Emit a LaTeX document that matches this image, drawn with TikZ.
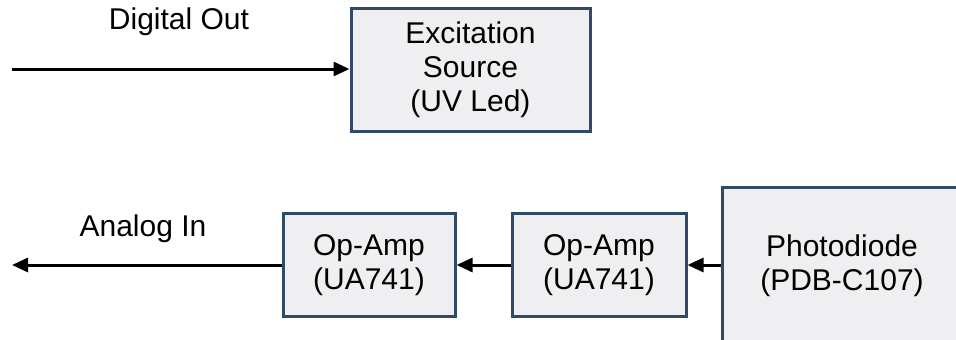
\documentclass[tikz,border=0pt]{standalone}
\usepackage{fontspec}
\setmainfont{Liberation Sans}
\usetikzlibrary{arrows.meta}
\definecolor{boxfill}{HTML}{EFEFF1}
\definecolor{boxline}{HTML}{2F4B67}
\begin{document}
\begin{tikzpicture}[x=1pt,y=-1pt,
  block/.style={draw=boxline, fill=boxfill, line width=3pt, inner sep=0pt,
    align=center, font=\fontsize{30}{34}\selectfont},
  sig/.style={line width=3pt, -{Triangle[length=16pt,width=14pt]}},
  lbl/.style={font=\fontsize{30}{34}\selectfont, inner sep=0pt}]
  \useasboundingbox (0,0) rectangle (956,340);
  \clip (0,0) rectangle (956,340);

  % upper row: digital output drives the UV source
  \node[block, minimum width=239pt, minimum height=123pt] (src) at (470.5,69.5)
    {Excitation\\Source\\(UV Led)};
  \coordinate (dout) at (12,69);
  \draw[sig] (dout) -- (src.west |- dout);
  \node[lbl] (doutlbl) at (179,22) {Digital Out};

  % lower row: photodiode -> two amplifier stages -> analog input
  \node[block, minimum width=240pt, minimum height=158pt] (pd) at (842,266)
    {Photodiode\\(PDB-C107)};
  \node[block, minimum width=174pt, minimum height=103pt] (amp2) at (599,265)
    {Op-Amp\\(UA741)};
  \node[block, minimum width=172pt, minimum height=103pt] (amp1) at (369,265)
    {Op-Amp\\(UA741)};
  \coordinate (ain) at (12,265);
  \draw[sig] (pd.west |- ain) -- (amp2.east |- ain);
  \draw[sig] (amp2.west |- ain) -- (amp1.east |- ain);
  \draw[sig] (amp1.west |- ain) -- (ain);
  \node[lbl] (ainlbl) at (143,229) {Analog In};
\end{tikzpicture}
\end{document}
